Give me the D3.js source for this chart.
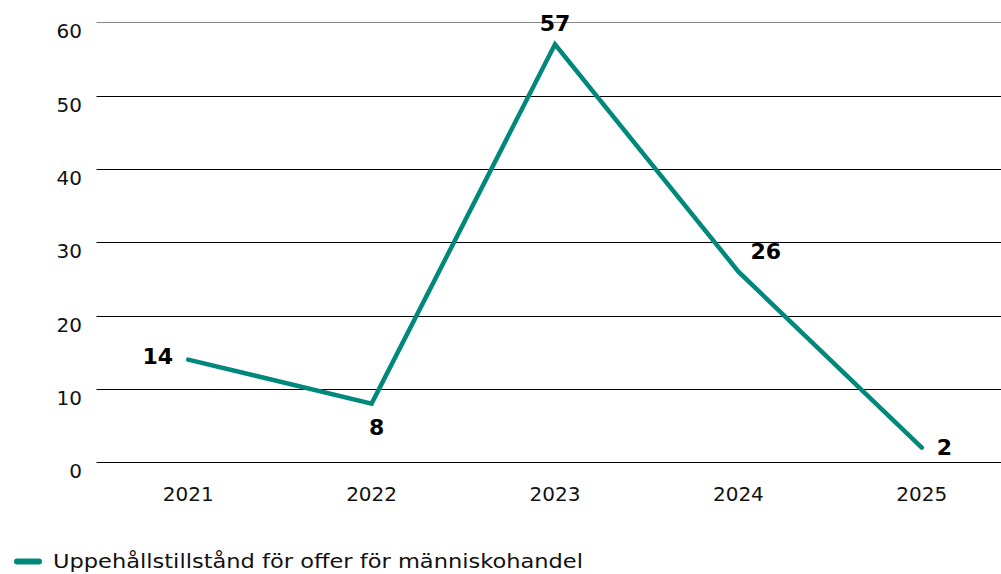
<!DOCTYPE html>
<html><head><meta charset="utf-8">
<script src="https://cdn.jsdelivr.net/npm/d3@7"></script>
<style>html,body{margin:0;padding:0;background:#fff;}svg{display:block;font-family:"DejaVu Sans",Verdana,sans-serif;}</style>
</head><body>
<svg id="c" width="1001" height="574"></svg>
<script>
const years = ["2021","2022","2023","2024","2025"];
const values = [14, 8, 57, 26, 2];
const yTicks = [0,10,20,30,40,50,60];
const seriesName = "Uppehållstillstånd för offer för människohandel";
// label placement: anchor, dx, dy (baseline relative to point)
const labelPos = [["end",-15,4.5],["middle",5,31.5],["middle",0,-13.5],["start",12,-12.5],["start",15,7.5]];

const svg = d3.select("#c");
const color = "#00887a";
const x = d3.scaleBand().domain(years).range([96.5, 1013.5]);
const y = d3.scaleLinear().domain([0,60]).range([462.3, 22.3]);

const grid = svg.append("g");
grid.selectAll("line").data(yTicks).join("line")
  .attr("x1", 96.5).attr("x2", 1001)
  .attr("y1", d => Math.round(y(d))+0.5).attr("y2", d => Math.round(y(d))+0.5)
  .attr("stroke", d => d===60 ? "#888" : "#000").attr("stroke-width", 1);
grid.selectAll("text").data(yTicks).join("text")
  .attr("x", 82).attr("y", d => y(d)+16)
  .attr("text-anchor","end").attr("font-size",20).attr("fill","#111")
  .text(d=>d);

svg.append("g").selectAll("text").data(years).join("text")
  .attr("x", d => x(d)+x.bandwidth()/2).attr("y", 501)
  .attr("text-anchor","middle").attr("font-size",20).attr("fill","#111")
  .text(d=>d);

const line = d3.line().x((d,i)=>x(years[i])+x.bandwidth()/2).y(d=>y(d));
svg.append("path").datum(values).attr("d", line)
  .attr("fill","none").attr("stroke",color).attr("stroke-width",4.5)
  .attr("stroke-linejoin","miter").attr("stroke-linecap","round");

svg.append("g").selectAll("text").data(values).join("text")
  .attr("x",(d,i)=>x(years[i])+x.bandwidth()/2+labelPos[i][1])
  .attr("y",(d,i)=>y(d)+labelPos[i][2])
  .attr("text-anchor",(d,i)=>labelPos[i][0])
  .attr("font-size",22).attr("font-weight","bold").attr("fill","#000")
  .text(d=>d);

const lg = svg.append("g");
lg.append("line").attr("x1",17).attr("x2",39).attr("y1",561.5).attr("y2",561.5)
  .attr("stroke",color).attr("stroke-width",6).attr("stroke-linecap","round");
lg.append("text").attr("x",53).attr("y",567.5).attr("font-size",20).attr("fill","#111")
  .attr("textLength",530).attr("lengthAdjust","spacingAndGlyphs").text(seriesName);
</script>
</body></html>
